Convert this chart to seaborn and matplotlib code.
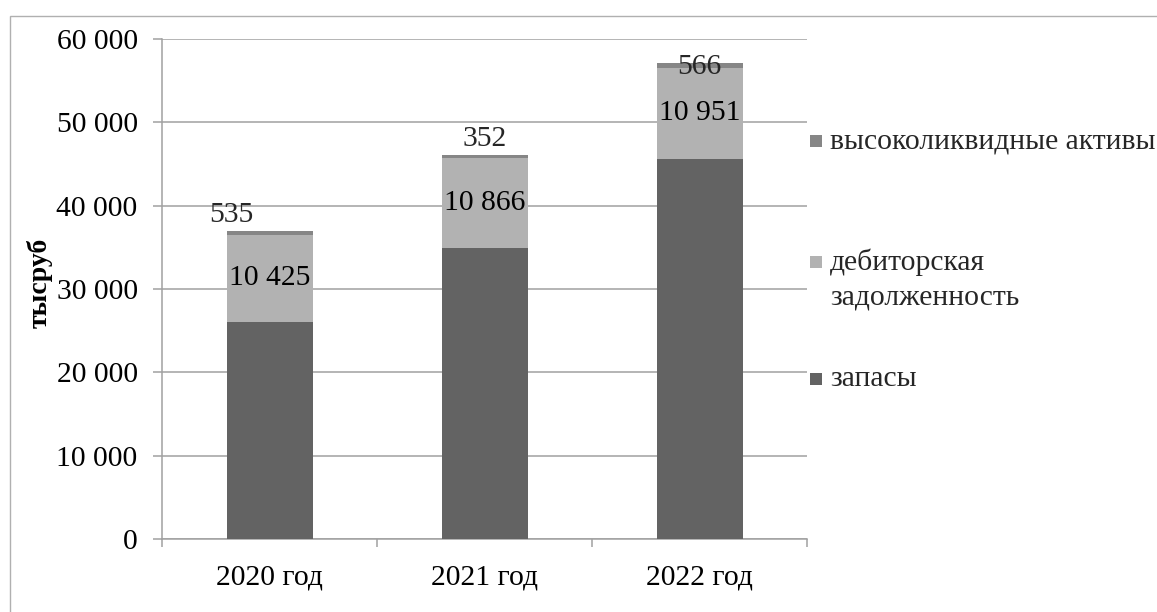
import matplotlib
matplotlib.use("Agg")
import matplotlib.pyplot as plt
from matplotlib.patches import Rectangle
from matplotlib.ticker import FuncFormatter, MultipleLocator, FixedLocator
import seaborn as sns
import pandas as pd
import numpy as np

# ---- data (тыс. руб.) ----
years = ["2020 год", "2021 год", "2022 год"]
zapasy = [26050, 34900, 45600]            # запасы
debitorka = [10425, 10866, 10951]         # дебиторская задолженность
vysokolikv = [535, 352, 566]              # высоколиквидные активы

series_names = ["высоколиквидные активы", "дебиторская\nзадолженность", "запасы"]
colors = {"top": "#868686", "mid": "#b2b2b2", "low": "#636363"}

FS = 21.3

sns.set_theme(style="white")
plt.rcParams["font.family"] = ["Liberation Serif", "DejaVu Serif"]
plt.rcParams["font.size"] = FS

fig = plt.figure(figsize=(11.57, 6.12), dpi=100)
ax = fig.add_axes([162 / 1157, 1 - 539 / 612, 645 / 1157, 500 / 612])

df = pd.DataFrame({
    "year": years,
    "low": zapasy,
    "mid": np.array(zapasy) + np.array(debitorka),
})
df["top"] = df["mid"] + np.array(vysokolikv)

# stacked bars: draw cumulative totals from the tallest down
for key in ["top", "mid", "low"]:
    sns.barplot(data=df, x="year", y=key, color=colors[key], width=0.4,
                saturation=1, edgecolor="none", linewidth=0, ax=ax, zorder=3)

ax.set_xlim(-0.5, 2.5)
ax.set_ylim(0, 60000)
ax.yaxis.set_major_locator(MultipleLocator(10000))
ax.yaxis.set_major_formatter(FuncFormatter(lambda v, p: f"{int(v):,}".replace(",", " ")))
ax.grid(axis="y", color="#a0a0a0", linewidth=1.1, zorder=0)
ax.grid(axis="x", visible=False)
ax.set_axisbelow(True)

for s in ["top", "right"]:
    ax.spines[s].set_visible(False)
for s in ["left", "bottom"]:
    ax.spines[s].set_color("#a0a0a0")
    ax.spines[s].set_linewidth(1.1)

ax.tick_params(axis="y", which="major", direction="out", length=6.5, width=1.1,
               color="#a0a0a0", pad=11, labelsize=FS, labelcolor="black", left=True)
ax.tick_params(axis="x", which="major", length=0, pad=18, labelsize=FS, labelcolor="black")
ax.xaxis.set_minor_locator(FixedLocator([-0.5, 0.5, 1.5, 2.5]))
ax.tick_params(axis="x", which="minor", direction="out", length=6, width=1.1,
               color="#a0a0a0", bottom=True)

ax.set_xlabel("")
ax.set_ylabel("тысруб", fontsize=20, fontweight="bold", color="black")
ax.yaxis.set_label_coords(-0.170, 0.512)

def fmt(v):
    return f"{v:,}".replace(",", " ")

# value labels
for i in range(3):
    mid_center = zapasy[i] + debitorka[i] / 2
    ax.text(i, mid_center, fmt(debitorka[i]), ha="center", va="center",
            fontsize=FS, color="black", zorder=5)
total = df["top"].tolist()
ax.text(0 - 0.177, total[0] + 300, fmt(vysokolikv[0]), ha="center", va="bottom",
        fontsize=FS, zorder=5)
ax.text(1, total[1] + 300, fmt(vysokolikv[1]), ha="center", va="bottom",
        fontsize=FS, zorder=5)
ax.text(2, total[2] - 500, fmt(vysokolikv[2]), ha="center", va="center",
        fontsize=FS, zorder=5)

# legend
leg_items = [
    (series_names[0], colors["top"], 141),
    (series_names[1], colors["mid"], 262),
    (series_names[2], colors["low"], 379),
]
W, H = 1157, 612
for label, col, yc in leg_items:
    sq = 12
    fig.patches.append(Rectangle((810 / W, 1 - (yc + sq / 2) / H), sq / W, sq / H,
                                 transform=fig.transFigure, facecolor=col,
                                 edgecolor="none"))
    lines = label.split("\n")
    fig.text(830 / W, 1 - yc / H, lines[0], ha="left", va="center", fontsize=FS)
    if len(lines) > 1:
        fig.text(830 / W, 1 - (yc + 36) / H, lines[1], ha="left",
                 va="center", fontsize=FS)

# chart frame
fig.patches.append(Rectangle((10 / W, -0.2), 1.3, 1.2 - 16 / H,
                             transform=fig.transFigure, facecolor="none",
                             edgecolor="#b0b0b0", linewidth=1.0))

fig.savefig("out.png", dpi=100)
